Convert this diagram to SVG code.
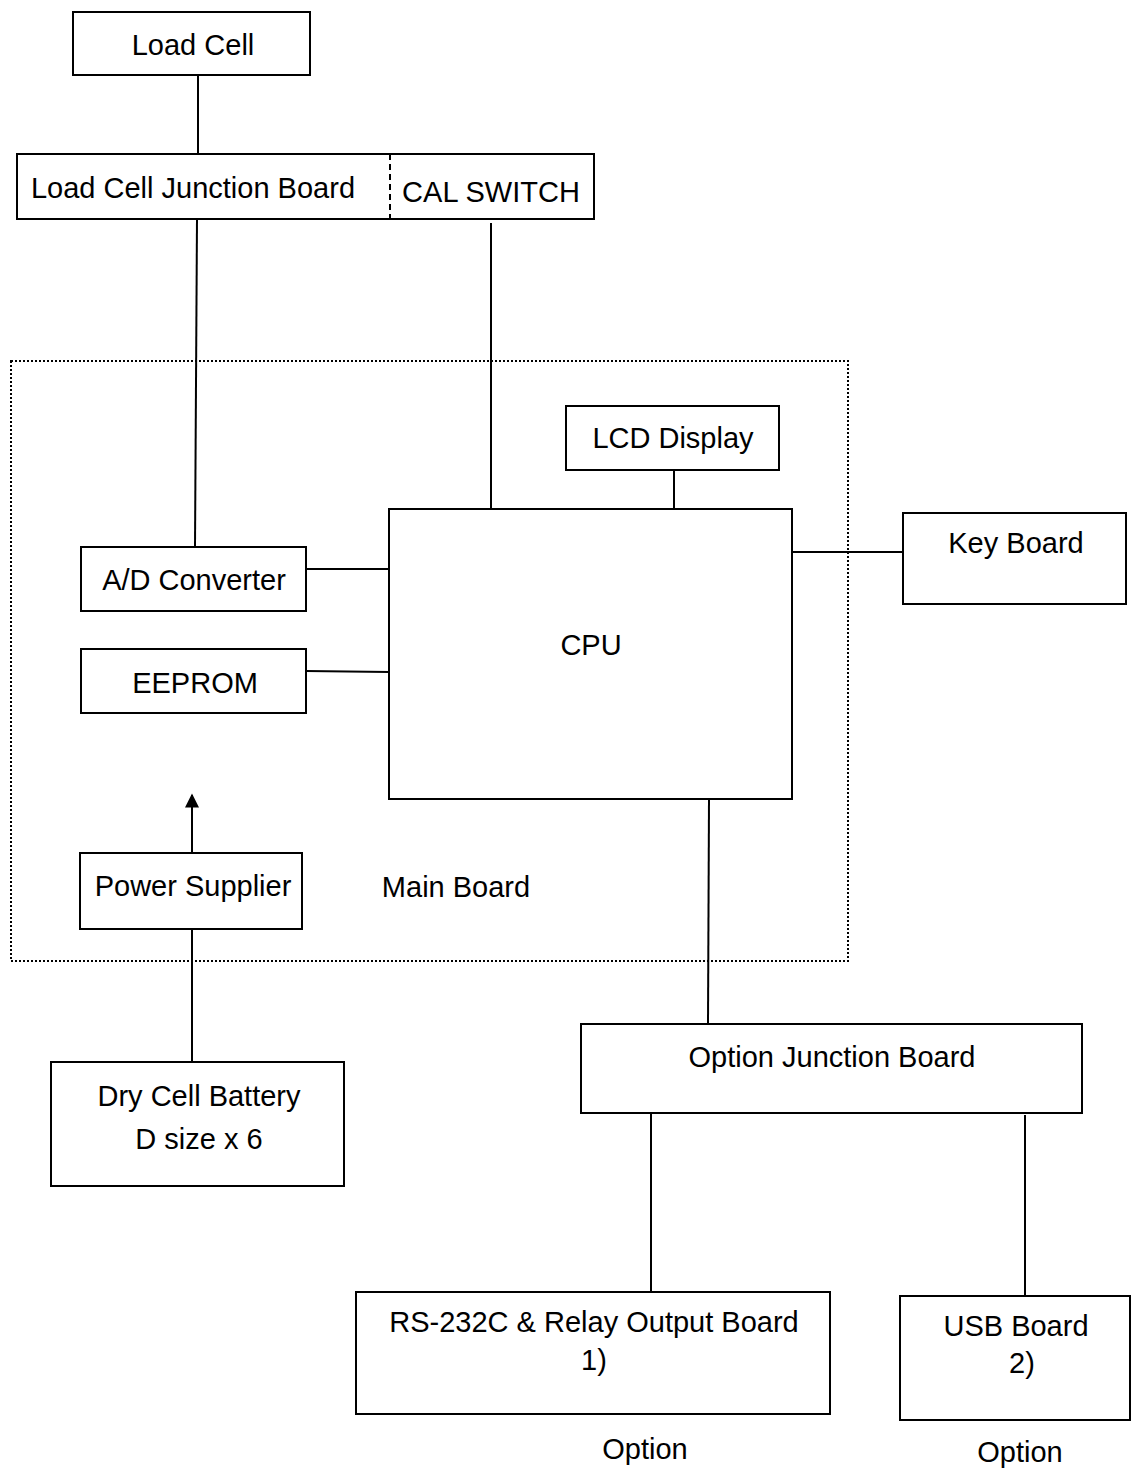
<svg xmlns="http://www.w3.org/2000/svg" width="1134" height="1468" viewBox="0 0 1134 1468">
<defs>
<style>
.box{fill:none;stroke:#000;stroke-width:2}
.ln{fill:none;stroke:#000;stroke-width:2}
text{font-family:"Liberation Sans",Arial,sans-serif;font-size:29px;fill:#000;text-anchor:middle}
</style>
<marker id="ah" viewBox="0 0 10 10" refX="9" refY="5" markerWidth="8" markerHeight="7" orient="auto" markerUnits="strokeWidth">
<path d="M0,0 L10,5 L0,10 z" fill="#000"/>
</marker>
</defs>
<rect width="1134" height="1468" fill="#fff"/>
<g id="main-board">
<rect x="11" y="361" width="837" height="600" fill="none" stroke="#000" stroke-width="2" stroke-dasharray="2,2"/>
<text x="456" y="897">Main Board</text>
</g>
<g id="connectors">
<line class="ln" x1="198" y1="75" x2="198" y2="153"/>
<line class="ln" x1="197" y1="219" x2="195" y2="547"/>
<line class="ln" x1="491" y1="223" x2="491" y2="508"/>
<line class="ln" x1="674" y1="470" x2="674" y2="509"/>
<line class="ln" x1="306" y1="569" x2="389" y2="569"/>
<line class="ln" x1="306" y1="671" x2="389" y2="672"/>
<line class="ln" x1="792" y1="552" x2="903" y2="552"/>
<line class="ln" x1="192" y1="853" x2="192" y2="795" marker-end="url(#ah)"/>
<line class="ln" x1="192" y1="929" x2="192" y2="1062"/>
<line class="ln" x1="709" y1="799" x2="708" y2="1024"/>
<line class="ln" x1="651" y1="1113" x2="651" y2="1292"/>
<line class="ln" x1="1025" y1="1115" x2="1025" y2="1296"/>
</g>
<g id="load-cell">
<rect class="box" x="73" y="12" width="237" height="63"/>
<text x="193" y="55">Load Cell</text>
</g>
<g id="junction-board">
<rect class="box" x="17" y="154" width="577" height="65"/>
<line x1="390" y1="154" x2="390" y2="219" stroke="#000" stroke-width="2" stroke-dasharray="6,4"/>
<text x="193" y="198">Load Cell Junction Board</text>
<text x="491" y="202">CAL SWITCH</text>
</g>
<g id="lcd">
<rect class="box" x="566" y="406" width="213" height="64"/>
<text x="673" y="448">LCD Display</text>
</g>
<g id="cpu">
<rect class="box" x="389" y="509" width="403" height="290"/>
<text x="591" y="655">CPU</text>
</g>
<g id="ad">
<rect class="box" x="81" y="547" width="225" height="64"/>
<text x="194" y="590">A/D Converter</text>
</g>
<g id="eeprom">
<rect class="box" x="81" y="649" width="225" height="64"/>
<text x="195" y="693">EEPROM</text>
</g>
<g id="keyboard">
<rect class="box" x="903" y="513" width="223" height="91"/>
<text x="1016" y="553">Key Board</text>
</g>
<g id="power">
<rect class="box" x="80" y="853" width="222" height="76"/>
<text x="193" y="896">Power Supplier</text>
</g>
<g id="battery">
<rect class="box" x="51" y="1062" width="293" height="124"/>
<text x="199" y="1106">Dry Cell Battery</text>
<text x="199" y="1149">D size x 6</text>
</g>
<g id="option-junction">
<rect class="box" x="581" y="1024" width="501" height="89"/>
<text x="832" y="1067">Option Junction Board</text>
</g>
<g id="rs232">
<rect class="box" x="356" y="1292" width="474" height="122"/>
<text x="594" y="1332">RS-232C &amp; Relay Output Board</text>
<text x="594" y="1370">1)</text>
<text x="645" y="1459">Option</text>
</g>
<g id="usb">
<rect class="box" x="900" y="1296" width="230" height="124"/>
<text x="1016" y="1336">USB Board</text>
<text x="1022" y="1373">2)</text>
<text x="1020" y="1462">Option</text>
</g>
</svg>
